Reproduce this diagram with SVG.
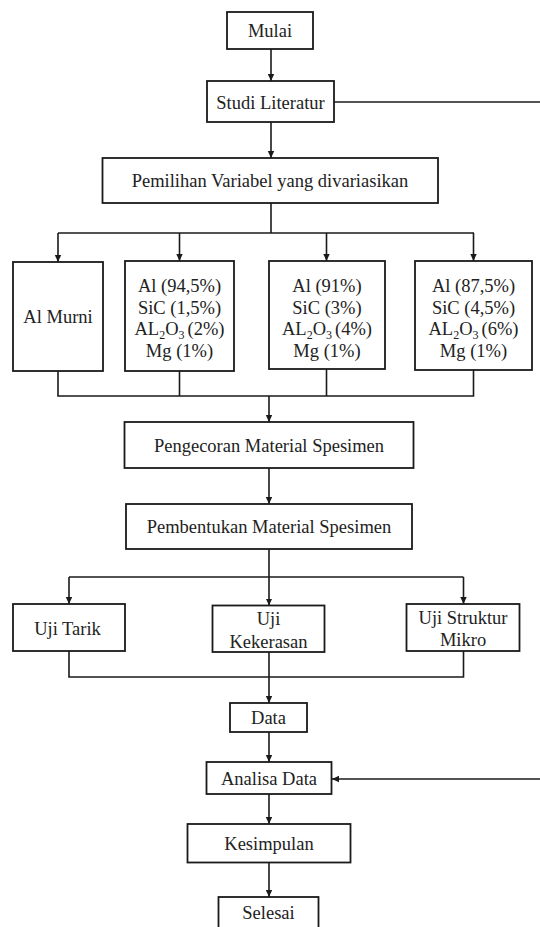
<svg xmlns="http://www.w3.org/2000/svg" width="540" height="927" viewBox="0 0 540 927">
<defs>
<marker id="ah" markerUnits="userSpaceOnUse" markerWidth="8" markerHeight="8" refX="7" refY="4" orient="auto">
<path d="M0,0.8 L7,4 L0,7.2 z" fill="#1a1a1a"/>
</marker>
<style>
rect{fill:#fff;stroke:#1a1a1a;stroke-width:1.8}
text{font-family:'Liberation Serif','Times New Roman',serif;font-size:18.5px;fill:#222;text-anchor:middle}
.sub{font-size:12px}
#connectors line,#connectors polyline{stroke:#1a1a1a;stroke-width:1.6;fill:none}
.a{marker-end:url(#ah)}
</style>
</defs>
<rect x="0" y="0" width="540" height="927" style="fill:#fff;stroke:none"/>
<g id="connectors">
<line class="a" x1="271" y1="49" x2="271" y2="81"/>
<line x1="334" y1="102" x2="540" y2="102"/>
<line class="a" x1="271" y1="122" x2="271" y2="158"/>
<line x1="271" y1="203" x2="271" y2="233"/>
<line x1="58" y1="233" x2="474" y2="233"/>
<line class="a" x1="58" y1="233" x2="58" y2="262"/>
<line class="a" x1="179.5" y1="233" x2="179.5" y2="261"/>
<line class="a" x1="326.5" y1="233" x2="326.5" y2="261"/>
<line class="a" x1="473.5" y1="233" x2="473.5" y2="261"/>
<polyline points="58,371 58,396 473.5,396 473.5,370"/>
<line x1="179.5" y1="371" x2="179.5" y2="396"/>
<line x1="326.5" y1="369" x2="326.5" y2="396"/>
<line class="a" x1="269" y1="396" x2="269" y2="422"/>
<line class="a" x1="269" y1="468" x2="269" y2="504"/>
<line x1="269" y1="549" x2="269" y2="577"/>
<line x1="69" y1="577" x2="463.5" y2="577"/>
<line class="a" x1="69" y1="577" x2="69" y2="604"/>
<line class="a" x1="269" y1="577" x2="269" y2="605.5"/>
<line class="a" x1="463.5" y1="577" x2="463.5" y2="604"/>
<polyline points="69,651 69,677 463.5,677 463.5,651"/>
<line class="a" x1="269" y1="652" x2="269" y2="703"/>
<line class="a" x1="269" y1="732" x2="269" y2="762"/>
<line class="a" x1="540" y1="779" x2="332" y2="779"/>
<line class="a" x1="269" y1="794" x2="269" y2="824"/>
<line class="a" x1="269" y1="862" x2="269" y2="897"/>
</g>
<g id="mulai"><rect x="227" y="12" width="86" height="37"/><text x="270" y="37">Mulai</text></g>
<g id="studi"><rect x="207" y="81" width="127" height="41"/><text x="270.5" y="109">Studi Literatur</text></g>
<g id="pemilihan"><rect x="102.5" y="158" width="335.5" height="45"/><text x="270" y="187">Pemilihan Variabel yang divariasikan</text></g>
<g id="almurni"><rect x="13" y="262" width="90" height="109"/><text x="58" y="323">Al Murni</text></g>
<g id="var1"><rect x="125" y="261" width="109" height="110"/>
<text x="179.5" y="292">Al (94,5%)</text>
<text x="179.5" y="313.5">SiC (1,5%)</text>
<text x="179.5" y="335">AL<tspan class="sub" dy="4">2</tspan><tspan dy="-4">O</tspan><tspan class="sub" dy="4">3 </tspan><tspan dy="-4">(2%)</tspan></text>
<text x="179.5" y="356.5">Mg (1%)</text></g>
<g id="var2"><rect x="269" y="261" width="116" height="108"/>
<text x="327" y="292">Al (91%)</text>
<text x="327" y="313.5">SiC (3%)</text>
<text x="327" y="335">AL<tspan class="sub" dy="4">2</tspan><tspan dy="-4">O</tspan><tspan class="sub" dy="4">3 </tspan><tspan dy="-4">(4%)</tspan></text>
<text x="327" y="356.5">Mg (1%)</text></g>
<g id="var3"><rect x="415" y="261" width="117" height="109"/>
<text x="473.5" y="292">Al (87,5%)</text>
<text x="473.5" y="313.5">SiC (4,5%)</text>
<text x="473.5" y="335">AL<tspan class="sub" dy="4">2</tspan><tspan dy="-4">O</tspan><tspan class="sub" dy="4">3 </tspan><tspan dy="-4">(6%)</tspan></text>
<text x="473.5" y="356.5">Mg (1%)</text></g>
<g id="pengecoran"><rect x="124.5" y="422" width="289" height="46"/><text x="269" y="451.5">Pengecoran Material Spesimen</text></g>
<g id="pembentukan"><rect x="126" y="504" width="286" height="45"/><text x="269" y="533">Pembentukan Material Spesimen</text></g>
<g id="ujitarik"><rect x="13" y="604" width="112" height="47"/><text x="67.5" y="635">Uji Tarik</text></g>
<g id="ujikekerasan"><rect x="212.5" y="605.5" width="112" height="46.5"/><text x="268.5" y="625">Uji</text><text x="268.5" y="647.5">Kekerasan</text></g>
<g id="ujistruktur"><rect x="406.5" y="604" width="113" height="47"/><text x="463" y="624">Uji Struktur</text><text x="463" y="645.5">Mikro</text></g>
<g id="data"><rect x="230" y="703" width="77" height="29"/><text x="268.5" y="724">Data</text></g>
<g id="analisa"><rect x="206.5" y="762" width="125" height="32"/><text x="269" y="785">Analisa Data</text></g>
<g id="kesimpulan"><rect x="187.5" y="824" width="163" height="38.5"/><text x="269" y="850">Kesimpulan</text></g>
<g id="selesai"><rect x="218.5" y="897" width="100" height="40"/><text x="268.5" y="919">Selesai</text></g>
</svg>
